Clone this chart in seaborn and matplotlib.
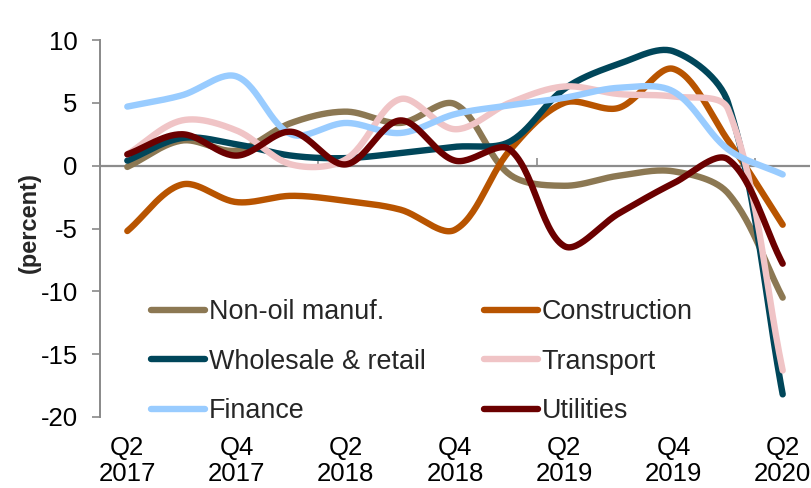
import numpy as np
import pandas as pd
import matplotlib
matplotlib.use("Agg")
import matplotlib.pyplot as plt
import seaborn as sns

# ---- data ----
quarters = ["Q2 2017", "Q3 2017", "Q4 2017", "Q1 2018", "Q2 2018", "Q3 2018", "Q4 2018",
            "Q1 2019", "Q2 2019", "Q3 2019", "Q4 2019", "Q1 2020", "Q2 2020"]
non_oil = [-0.1, 2.0, 1.2, 3.4, 4.3, 3.4, 4.9, -0.7, -1.6, -0.8, -0.45, -2.2, -10.5]
construction = [-5.2, -1.5, -2.9, -2.4, -2.8, -3.5, -5.1, 1.2, 5.0, 4.6, 7.7, 2.0, -4.7]
wholesale = [0.4, 2.2, 1.7, 0.8, 0.6, 1.0, 1.5, 1.9, 6.1, 8.1, 9.1, 5.0, -18.2]
transport = [0.9, 3.6, 2.8, 0.1, 0.5, 5.3, 2.9, 5.0, 6.3, 5.7, 5.5, 4.5, -16.3]
finance = [4.7, 5.6, 7.1, 2.5, 3.4, 2.6, 4.1, 4.8, 5.4, 6.2, 5.9, 1.3, -0.7]
utilities = [0.9, 2.5, 0.8, 2.7, 0.1, 3.6, 0.4, 1.3, -6.4, -3.8, -1.4, 0.5, -7.8]

series_names = ["Non-oil manuf.", "Construction", "Wholesale & retail",
                "Transport", "Finance", "Utilities"]
series_values = [non_oil, construction, wholesale, transport, finance, utilities]
colors = ["#8C7853", "#B85400", "#00465A", "#F0C4C6", "#99CCFF", "#6B0000"]

tick_positions = [0, 2, 4, 6, 8, 10, 12]
tick_labels = ["Q2\n2017", "Q4\n2017", "Q2\n2018", "Q4\n2018", "Q2\n2019", "Q4\n2019", "Q2\n2020"]

# pixel-ish scale of one x step and one y unit (used only for the curve shape)
SX, SY = 54.6, 12.6


def smooth(xs, ys, n=30):
    """Excel-like smoothed line: Bezier through the points, chord-length scaled tangents."""
    P = np.column_stack([np.asarray(xs, float) * SX, np.asarray(ys, float) * SY])
    m = len(P)
    d = np.linalg.norm(np.diff(P, axis=0), axis=1)
    cin, cout = np.zeros_like(P), np.zeros_like(P)
    for i in range(m):
        if i == 0:
            cout[i] = P[i] + (P[1] - P[0]) / 3.0
            continue
        if i == m - 1:
            cin[i] = P[i] - (P[i] - P[i - 1]) / 3.0
            continue
        T = P[i + 1] - P[i - 1]
        tot = d[i - 1] + d[i]
        cin[i] = P[i] - T * (d[i - 1] / tot) / 3.0
        cout[i] = P[i] + T * (d[i] / tot) / 3.0
    px, py = [], []
    for i in range(m - 1):
        t = np.linspace(0, 1, n, endpoint=(i == m - 2))[:, None]
        pts = ((1 - t) ** 3) * P[i] + 3 * ((1 - t) ** 2) * t * cout[i] \
            + 3 * (1 - t) * t ** 2 * cin[i + 1] + t ** 3 * P[i + 1]
        px.extend(pts[:, 0] / SX)
        py.extend(pts[:, 1] / SY)
    return px, py


rows = []
x_idx = np.arange(len(quarters))
for name, vals in zip(series_names, series_values):
    sx, sy = smooth(x_idx, vals)
    for a, b in zip(sx, sy):
        rows.append({"x": a, "value": b, "series": name})
df = pd.DataFrame(rows)

sns.set_theme(style="white")
plt.rcParams["font.family"] = ["Liberation Sans", "DejaVu Sans"]
plt.rcParams["axes.unicode_minus"] = False

fig = plt.figure(figsize=(8.12, 4.88), dpi=100)
ax = fig.add_axes([100 / 812, 1 - 417 / 488, 710 / 812, 377 / 488])

ax.axhline(0, color="#8C8C8C", linewidth=1.6, zorder=0.5)

sns.lineplot(data=df, x="x", y="value", hue="series", hue_order=series_names,
             palette=dict(zip(series_names, colors)), sort=False, estimator=None,
             linewidth=4.6, ax=ax, legend=True)
for ln in ax.lines:
    ln.set_solid_capstyle("round")

ax.set_xlim(-0.5, 12.5)
ax.set_ylim(-20, 10)
ax.set_yticks([10, 5, 0, -5, -10, -15, -20])
ax.set_yticklabels(["10", "5", "0", "-5", "-10", "-15", "-20"])
ax.set_xticks(tick_positions)
ax.set_xticklabels(tick_labels, linespacing=1.08)
ax.tick_params(axis="x", length=0, pad=14, labelsize=18.5, colors="black")
ax.tick_params(axis="y", length=6, width=1.2, pad=10, labelsize=18.5,
               color="#898989", direction="out", left=True, labelcolor="black")
for s in ["top", "right", "bottom"]:
    ax.spines[s].set_visible(False)
ax.spines["left"].set_color("#898989")
ax.spines["left"].set_linewidth(1.4)
ax.set_xlabel("")
ax.set_ylabel("(percent)", fontsize=17, fontweight="bold")
ax.yaxis.set_label_coords(-0.083, 0.515)

# category-boundary tick marks on the zero axis
sec = ax.secondary_xaxis(2 / 3)
sec.set_xticks([-0.5, 3.5, 7.5, 11.5])
sec.set_xticklabels([])
sec.tick_params(length=6, width=1.2, color="#8C8C8C", direction="out")
for s in sec.spines.values():
    s.set_visible(False)

handles, labels = ax.get_legend_handles_labels()
hmap = dict(zip(labels, handles))
order = ["Non-oil manuf.", "Wholesale & retail", "Finance",
         "Construction", "Transport", "Utilities"]
ax.legend([hmap[k] for k in order], order, ncol=2, frameon=False,
          loc="upper left", bbox_to_anchor=(151 / 812, 1 - 299 / 488),
          bbox_transform=fig.transFigure, fontsize=19.4, handlelength=2.0,
          handletextpad=0.15, columnspacing=2.15, labelspacing=0.88,
          borderpad=0, borderaxespad=0)

fig.savefig("out.png", dpi=100)
